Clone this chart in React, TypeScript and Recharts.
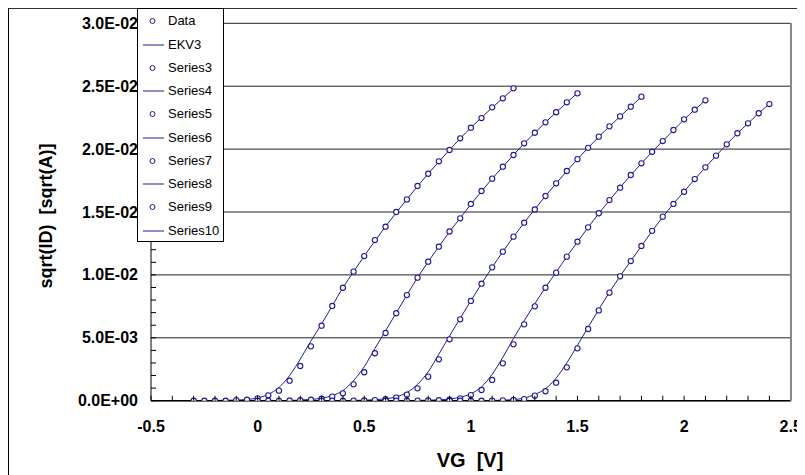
import React from 'react';
import { ComposedChart, Line, Scatter, XAxis, YAxis, CartesianGrid } from 'recharts';

// gate voltage sweeps (V), one per curve
const vg1 = [-0.3, -0.25, -0.2, -0.15, -0.1, -0.05, 0, 0.05, 0.1, 0.15, 0.2, 0.25, 0.3, 0.35, 0.4, 0.45, 0.5, 0.55, 0.6, 0.65, 0.7, 0.75, 0.8, 0.85, 0.9, 0.95, 1, 1.05, 1.1, 1.15, 1.2];
const vg2 = [0, 0.05, 0.1, 0.15, 0.2, 0.25, 0.3, 0.35, 0.4, 0.45, 0.5, 0.55, 0.6, 0.65, 0.7, 0.75, 0.8, 0.85, 0.9, 0.95, 1, 1.05, 1.1, 1.15, 1.2, 1.25, 1.3, 1.35, 1.4, 1.45, 1.5];
const vg3 = [0.3, 0.35, 0.4, 0.45, 0.5, 0.55, 0.6, 0.65, 0.7, 0.75, 0.8, 0.85, 0.9, 0.95, 1, 1.05, 1.1, 1.15, 1.2, 1.25, 1.3, 1.35, 1.4, 1.45, 1.5, 1.55, 1.6, 1.65, 1.7, 1.75, 1.8];
const vg4 = [0.6, 0.65, 0.7, 0.75, 0.8, 0.85, 0.9, 0.95, 1, 1.05, 1.1, 1.15, 1.2, 1.25, 1.3, 1.35, 1.4, 1.45, 1.5, 1.55, 1.6, 1.65, 1.7, 1.75, 1.8, 1.85, 1.9, 1.95, 2, 2.05, 2.1];
const vg5 = [0.9, 0.95, 1, 1.05, 1.1, 1.15, 1.2, 1.25, 1.3, 1.35, 1.4, 1.45, 1.5, 1.55, 1.6, 1.65, 1.7, 1.75, 1.8, 1.85, 1.9, 1.95, 2, 2.05, 2.1, 2.15, 2.2, 2.25, 2.3, 2.35, 2.4];

// sqrt(ID) in units of 1E-03 sqrt(A): measured points and EKV3 fits
const data1 = [0, 0, 0, 0, 0.05, 0.08, 0.19, 0.43, 0.8, 1.59, 2.76, 4.32, 5.96, 7.53, 8.98, 10.26, 11.5, 12.77, 13.83, 15.0, 16.0, 17.07, 18.04, 19.03, 19.93, 20.86, 21.7, 22.47, 23.32, 24.04, 24.83];
const fit1 = [0.01, 0.01, 0.02, 0.03, 0.05, 0.1, 0.22, 0.5, 1.05, 2.0, 3.3, 4.75, 6.1, 7.55, 8.98, 10.26, 11.5, 12.7, 13.85, 14.95, 16.0, 17.05, 18.05, 19.0, 19.93, 20.85, 21.7, 22.5, 23.3, 24.05, 24.8];
const data2 = [0, 0, 0, 0.02, 0.04, 0.08, 0.16, 0.32, 0.59, 1.3, 2.26, 3.77, 5.38, 6.95, 8.4, 9.78, 11.05, 12.24, 13.45, 14.5, 15.64, 16.67, 17.65, 18.6, 19.53, 20.46, 21.3, 22.13, 22.93, 23.72, 24.43];
const fit2 = [0, 0.01, 0.01, 0.02, 0.05, 0.1, 0.2, 0.4, 0.8, 1.6, 2.7, 4.15, 5.55, 6.98, 8.4, 9.78, 11.05, 12.25, 13.42, 14.52, 15.6, 16.65, 17.65, 18.6, 19.53, 20.45, 21.3, 22.13, 22.93, 23.7, 24.45];
const data3 = [0, 0, 0, 0.01, 0.02, 0.05, 0.12, 0.25, 0.48, 0.98, 1.91, 3.29, 4.88, 6.47, 7.93, 9.3, 10.6, 11.85, 13.04, 14.15, 15.2, 16.27, 17.28, 18.26, 19.2, 20.1, 20.99, 21.81, 22.6, 23.37, 24.17];
const fit3 = [0, 0, 0.01, 0.02, 0.04, 0.08, 0.15, 0.3, 0.65, 1.3, 2.3, 3.7, 5.15, 6.55, 7.95, 9.3, 10.6, 11.85, 13.02, 14.15, 15.22, 16.27, 17.28, 18.25, 19.2, 20.1, 20.98, 21.8, 22.6, 23.38, 24.15];
const data4 = [0, 0, 0, 0.01, 0.02, 0.04, 0.08, 0.19, 0.45, 0.85, 1.65, 2.97, 4.48, 6.07, 7.5, 8.98, 10.18, 11.45, 12.64, 13.78, 14.9, 15.95, 16.93, 17.94, 18.87, 19.79, 20.64, 21.52, 22.37, 23.13, 23.88];
const fit4 = [0, 0, 0.01, 0.02, 0.04, 0.07, 0.13, 0.27, 0.55, 1.1, 2.1, 3.45, 4.95, 6.35, 7.7, 9.0, 10.22, 11.45, 12.62, 13.78, 14.88, 15.93, 16.95, 17.93, 18.87, 19.78, 20.65, 21.5, 22.35, 23.13, 23.88];
const data5 = [0, 0, 0, 0, 0.01, 0.03, 0.06, 0.13, 0.4, 0.75, 1.43, 2.65, 4.16, 5.7, 7.18, 8.59, 9.89, 11.1, 12.3, 13.5, 14.63, 15.64, 16.61, 17.62, 18.55, 19.48, 20.38, 21.26, 22.05, 22.85, 23.58];
const fit5 = [0, 0, 0, 0.01, 0.02, 0.04, 0.09, 0.2, 0.5, 0.95, 1.8, 3.0, 4.4, 5.85, 7.25, 8.62, 9.9, 11.1, 12.3, 13.48, 14.6, 15.65, 16.63, 17.6, 18.55, 19.47, 20.38, 21.25, 22.05, 22.85, 23.6];

const legendNames = ['Data', 'EKV3', 'Series3', 'Series4', 'Series5', 'Series6', 'Series7', 'Series8', 'Series9', 'Series10'];

const xTicks = [-0.5, -0.4, -0.3, -0.2, -0.1, 0, 0.1, 0.2, 0.3, 0.4, 0.5, 0.6, 0.7, 0.8, 0.9, 1, 1.1, 1.2, 1.3, 1.4, 1.5, 1.6, 1.7, 1.8, 1.9, 2, 2.1, 2.2, 2.3, 2.4, 2.5];
const xMajor = [-0.5, 0, 0.5, 1, 1.5, 2, 2.5];
const xLabels = ['-0.5', '0', '0.5', '1', '1.5', '2', '2.5'];
const yTicks = [0, 1, 2, 3, 4, 5, 6, 7, 8, 9, 10, 11, 12, 13, 14, 15, 16, 17, 18, 19, 20, 21, 22, 23, 24, 25, 26, 27, 28, 29, 30];
const yMajor = [0, 5, 10, 15, 20, 25, 30];
const yLabels = ['0.0E+00', '5.0E-03', '1.0E-02', '1.5E-02', '2.0E-02', '2.5E-02', '3.0E-02'];

const NAVY = '#1c1c96';
const FONT = '"Liberation Sans", Arial, sans-serif';

const pair = (xs: number[], ys: number[]) => xs.map((x, i) => ({ x, y: ys[i] }));

const curves = [
  { data: pair(vg1, data1), fit: pair(vg1, fit1) },
  { data: pair(vg2, data2), fit: pair(vg2, fit2) },
  { data: pair(vg3, data3), fit: pair(vg3, fit3) },
  { data: pair(vg4, data4), fit: pair(vg4, fit4) },
  { data: pair(vg5, data5), fit: pair(vg5, fit5) },
];

const findMajor = (list: number[], v: number) => list.findIndex((m) => Math.abs(m - v) < 1e-6);

const XTick = (props: any) => {
  const { x, y, payload } = props;
  const i = findMajor(xMajor, payload.value);
  return (
    <g>
      <line x1={x} x2={x} y1={y} y2={y - 5} stroke="#000" />
      {i >= 0 && (
        <text x={x} y={y + 31} textAnchor="middle" fontSize={16} fontWeight={700} fontFamily={FONT} fill="#000">
          {xLabels[i]}
        </text>
      )}
    </g>
  );
};

const YTick = (props: any) => {
  const { x, y, payload } = props;
  const i = findMajor(yMajor, payload.value);
  return (
    <g>
      <line x1={x} x2={x + 5} y1={y} y2={y} stroke="#000" />
      {i >= 0 && (
        <text x={x - 13} y={y + 5.5} textAnchor="end" fontSize={16} fontWeight={700} fontFamily={FONT} fill="#000">
          {yLabels[i]}
        </text>
      )}
    </g>
  );
};

const Marker = (props: any) => (
  <circle cx={props.cx} cy={props.cy} r={2.6} fill="#fff" stroke={NAVY} strokeWidth={1.1} />
);

const LegendBox = () => (
  <div
    style={{
      position: 'absolute', left: 129, top: 0, width: 87, height: 234, boxSizing: 'border-box',
      border: '1px solid #000', background: '#fff', fontFamily: FONT, fontSize: 13,
    }}
  >
    {legendNames.map((name, i) => (
      <div key={name} style={{ position: 'absolute', left: 0, top: 12.4 + i * 23.25 - 11, height: 22, width: 86 }}>
        <svg width={30} height={22} style={{ position: 'absolute', left: 0, top: 0 }}>
          {i % 2 === 0 ? (
            <circle cx={14.5} cy={11} r={2.5} fill="#fff" stroke={NAVY} strokeWidth={1} />
          ) : (
            <line x1={5} x2={26} y1={11} y2={11} stroke={NAVY} strokeWidth={1} />
          )}
        </svg>
        <span style={{ position: 'absolute', left: 30, top: 3, lineHeight: '15px', whiteSpace: 'nowrap' }}>{name}</span>
      </div>
    ))}
  </div>
);

export default function App() {
  return (
    <div style={{ position: 'relative', width: 797, height: 467, overflow: 'hidden', background: '#fff' }}>
      <style>{'html { overflow: hidden; }'}</style>
      <div style={{ position: 'absolute', left: 0, top: 0, width: 820, height: 490, borderTop: '1px solid #333', borderLeft: '1px solid #000' }} />
      <div style={{ position: 'absolute', left: 0, top: 0 }}>
        <ComposedChart width={797} height={467} margin={{ top: 15.3, right: 14.3, left: 63, bottom: 44.3 }}>
          <CartesianGrid vertical={false} horizontalValues={yMajor} stroke="#222" strokeWidth={1} />
          <XAxis
            type="number"
            dataKey="x"
            domain={[-0.5, 2.5]}
            ticks={xTicks}
            interval={0}
            allowDataOverflow
            height={30}
            tickSize={0}
            tickMargin={0}
            tickLine={false}
            tick={<XTick />}
            axisLine={{ stroke: '#000', strokeWidth: 1.5 }}
          />
          <YAxis
            type="number"
            dataKey="y"
            domain={[0, 30]}
            ticks={yTicks}
            interval={0}
            allowDataOverflow
            width={80}
            tickSize={0}
            tickMargin={0}
            tickLine={false}
            tick={<YTick />}
            axisLine={{ stroke: '#000' }}
          />
          {curves.map((c, i) => (
            <Line
              key={`fit-${i}`}
              data={c.fit}
              dataKey="y"
              type="monotone"
              stroke={NAVY}
              strokeWidth={1}
              dot={false}
              activeDot={false}
              isAnimationActive={false}
            />
          ))}
          {curves.map((c, i) => (
            <Scatter key={`data-${i}`} data={c.data} dataKey="y" shape={<Marker />} isAnimationActive={false} />
          ))}
        </ComposedChart>
      </div>
      {/* plot frame right edge */}
      <div style={{ position: 'absolute', left: 782, top: 15, width: 1.5, height: 378, background: '#888' }} />
      <div
        style={{
          position: 'absolute', left: 38, top: 208, transform: 'translate(-50%, -50%) rotate(-90deg)',
          fontFamily: FONT, fontWeight: 700, fontSize: 18, whiteSpace: 'pre', lineHeight: '20px',
        }}
      >
        {'sqrt(ID)  [sqrt(A)]'}
      </div>
      <div
        style={{
          position: 'absolute', left: 462, top: 452, transform: 'translate(-50%, -50%)',
          fontFamily: FONT, fontWeight: 700, fontSize: 20, whiteSpace: 'pre', lineHeight: '22px',
        }}
      >
        {'VG  [V]'}
      </div>
      <LegendBox />
    </div>
  );
}
